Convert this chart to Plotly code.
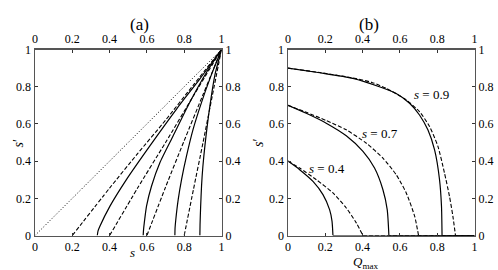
import plotly.graph_objects as go

# ---------------- data ----------------
ticks = [0, 0.2, 0.4, 0.6, 0.8, 1]
tick_text = ["0", "0.2", "0.4", "0.6", "0.8", "1"]

# panel (a): s' versus s
a_dot_s = [0, 1]
a_dot_sp = [0, 1]

a_dash = {
    "Q=0.2": ([0.2, 0.4, 0.55, 0.7, 0.85, 1.0], [0, 0.255, 0.44, 0.62, 0.81, 1.0]),
    "Q=0.4": ([0.4, 0.55, 0.7, 0.85, 1.0], [0, 0.255, 0.5, 0.752, 1.0]),
    "Q=0.6": ([0.6, 0.7, 0.8, 0.9, 1.0], [0, 0.26, 0.51, 0.755, 1.0]),
    "Q=0.8": ([0.8, 0.85, 0.9, 0.95, 1.0], [0, 0.25, 0.495, 0.748, 1.0]),
}
a_solid = {
    "Q=0.2": ([0.334, 0.338, 0.348, 0.402, 0.491, 0.616, 0.759, 0.884, 1.0],
              [0, 0.025, 0.05, 0.158, 0.302, 0.482, 0.68, 0.842, 1.0]),
    "Q=0.4": ([0.58, 0.582, 0.586, 0.598, 0.625, 0.67, 0.741, 0.83, 0.92, 1.0],
              [0, 0.03, 0.068, 0.158, 0.266, 0.392, 0.536, 0.716, 0.878, 1.0]),
    "Q=0.6": ([0.75, 0.751, 0.755, 0.768, 0.786, 0.8125, 0.848, 0.893, 0.9375, 1.0],
              [0, 0.04, 0.086, 0.194, 0.302, 0.428, 0.572, 0.716, 0.842, 1.0]),
    "Q=0.8": ([0.884, 0.885, 0.888, 0.893, 0.9, 0.911, 0.938, 0.964, 1.0],
              [0, 0.06, 0.15, 0.266, 0.37, 0.482, 0.698, 0.86, 1.0]),
}

# panel (b): s' versus Q_max
b_solid = {
    "s=0.9": ([0, 0.17, 0.348, 0.49, 0.58, 0.652, 0.705, 0.75, 0.786, 0.8125, 0.823, 0.826],
              [0.9, 0.875, 0.845, 0.80, 0.764, 0.711, 0.648, 0.568, 0.46, 0.30, 0.157, 0]),
    "s=0.7": ([0, 0.098, 0.205, 0.3125, 0.402, 0.464, 0.509, 0.532, 0.541],
              [0.7, 0.657, 0.604, 0.536, 0.452, 0.3625, 0.246, 0.139, 0]),
    "s=0.4": ([0, 0.0625, 0.134, 0.1875, 0.223, 0.236, 0.241],
              [0.4, 0.354, 0.291, 0.22, 0.139, 0.077, 0]),
}
b_dash = {
    "s=0.9": ([0, 0.17, 0.348, 0.45, 0.527, 0.634, 0.705, 0.759, 0.804, 0.839, 0.866, 0.884, 0.898],
              [0.9, 0.876, 0.847, 0.823, 0.791, 0.729, 0.666, 0.586, 0.479, 0.336, 0.21, 0.104, 0]),
    "s=0.7": ([0, 0.098, 0.205, 0.3125, 0.42, 0.509, 0.58, 0.634, 0.679, 0.70],
              [0.7, 0.6625, 0.618, 0.568, 0.496, 0.416, 0.327, 0.229, 0.104, 0]),
    "s=0.4": ([0, 0.0625, 0.152, 0.241, 0.3125, 0.366, 0.402],
              [0.4, 0.3625, 0.30, 0.229, 0.148, 0.068, 0]),
}
b_labels = [("s=0.9", "0.9", 0.77, 0.76), ("s=0.7", "0.7", 0.495, 0.55), ("s=0.4", "0.4", 0.207, 0.36)]

# ---------------- figure ----------------
SERIF = "Liberation Serif"
fig = go.Figure()

def line(x, y, xa, ya, dash="solid", width=1.2, shape="spline"):
    fig.add_trace(go.Scatter(x=x, y=y, xaxis=xa, yaxis=ya, mode="lines",
                             line=dict(color="black", width=width, dash=dash, shape=shape, smoothing=0.6),
                             showlegend=False, hoverinfo="skip"))

line(a_dot_s, a_dot_sp, "x", "y", dash="1px,2px", width=1.0, shape="linear")
for k, (x, y) in a_dash.items():
    line(x, y, "x", "y", dash="4px,2px", width=1.1)
for k, (x, y) in a_solid.items():
    line(x, y, "x", "y")

for k, (x, y) in b_solid.items():
    line(x, y, "x2", "y2")
    line([x[-1], 1], [0, 0], "x2", "y2", shape="linear")
for k, (x, y) in b_dash.items():
    line(x, y, "x2", "y2", dash="4px,2px", width=1.1)
    line([x[-1], 1], [0, 0], "x2", "y2", dash="4px,2px", width=1.1, shape="linear")

# dummy traces so overlay (top/right) axes are drawn
for xa, ya in [("x3", "y3"), ("x4", "y4")]:
    fig.add_trace(go.Scatter(x=[None], y=[None], xaxis=xa, yaxis=ya, mode="lines",
                             showlegend=False, hoverinfo="skip"))

xa_dom = [35.0 / 498, 221.5 / 498]
xb_dom = [288.0 / 498, 474.5 / 498]
y_dom = [1 - 235.5 / 270, 1 - 49.5 / 270]

ax_common = dict(range=[0, 1], tickmode="array", tickvals=ticks, ticktext=tick_text,
                 ticks="inside", ticklen=3, tickwidth=1, tickcolor="#333",
                 showgrid=False, zeroline=False, showline=True, linecolor="#555", linewidth=1.5,
                 tickfont=dict(family=SERIF, size=12, color="black"), automargin=False, fixedrange=True)

fig.update_layout(
    width=498, height=270, margin=dict(l=0, r=0, t=0, b=0),
    paper_bgcolor="white", plot_bgcolor="white",
    font=dict(family=SERIF),
    xaxis=dict(domain=xa_dom, anchor="y", side="bottom", **ax_common),
    yaxis=dict(domain=y_dom, anchor="x", side="left", **ax_common),
    xaxis3=dict(overlaying="x", anchor="y", side="top", **ax_common),
    yaxis3=dict(overlaying="y", anchor="x", side="right", **ax_common),
    xaxis2=dict(domain=xb_dom, anchor="y2", side="bottom", **ax_common),
    yaxis2=dict(domain=y_dom, anchor="x2", side="left", **ax_common),
    xaxis4=dict(overlaying="x2", anchor="y2", side="top", **ax_common),
    yaxis4=dict(overlaying="y2", anchor="x2", side="right", **ax_common),
)

ann = []
ann.append(dict(text="(a)", x=(xa_dom[0] + xa_dom[1]) / 2, y=1 - 13 / 270, xref="paper", yref="paper",
                showarrow=False, font=dict(family=SERIF, size=17, color="black")))
ann.append(dict(text="(b)", x=(xb_dom[0] + xb_dom[1]) / 2, y=1 - 13 / 270, xref="paper", yref="paper",
                showarrow=False, font=dict(family=SERIF, size=17, color="black")))
ann.append(dict(text="<i>s</i>", x=(xa_dom[0] + xa_dom[1]) / 2, y=1 - 262 / 270, xref="paper", yref="paper",
                showarrow=False, font=dict(family=SERIF, size=13, color="black")))
ann.append(dict(text="<i>Q</i><sub>max</sub>", x=(xb_dom[0] + xb_dom[1]) / 2, y=1 - 262 / 270,
                xref="paper", yref="paper", yanchor="middle", showarrow=False,
                font=dict(family=SERIF, size=13, color="black")))
ann.append(dict(text="<i>s</i>′", x=8 / 498, y=1 - 143 / 270, xref="paper", yref="paper", textangle=-90,
                showarrow=False, font=dict(family=SERIF, size=14, color="black")))
ann.append(dict(text="<i>s</i>′", x=258 / 498, y=1 - 143 / 270, xref="paper", yref="paper", textangle=-90,
                showarrow=False, font=dict(family=SERIF, size=14, color="black")))
for key, val, qx, sy in b_labels:
    ann.append(dict(text="<i>s</i> = " + val, x=qx, y=sy, xref="x2", yref="y2", xanchor="center",
                    showarrow=False, font=dict(family=SERIF, size=13, color="black")))
fig.update_layout(annotations=ann)

fig.write_html("out.html", config={"displayModeBar": False, "staticPlot": True},
               post_script="document.body.style.margin='0';document.body.style.overflow='hidden';")
